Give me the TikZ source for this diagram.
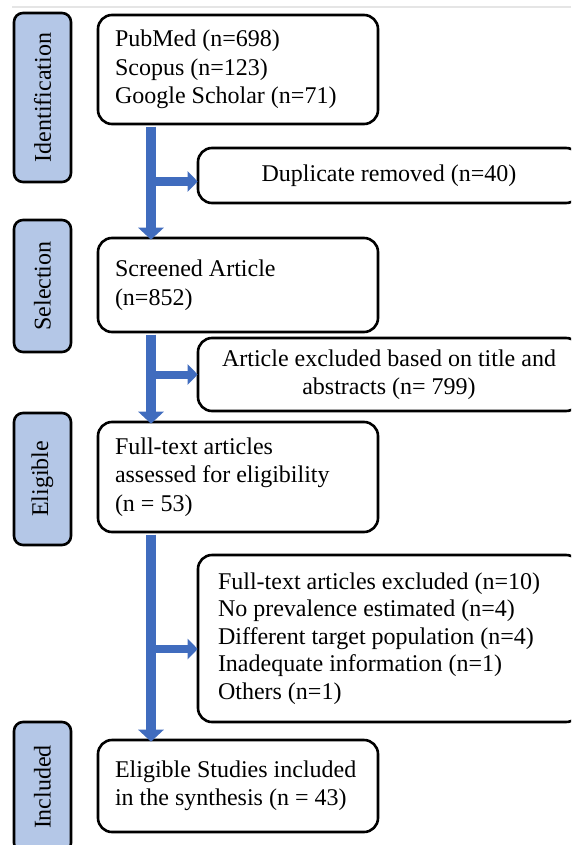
\documentclass[tikz,border=0pt]{standalone}
\usepackage{fontspec}
\setmainfont{Liberation Serif}
\usepackage{tikz}
\usetikzlibrary{arrows.meta}
\definecolor{sidefill}{RGB}{180,199,231}
\definecolor{arrblue}{RGB}{64,108,190}
\tikzset{
  blk/.style={draw, line width=2.6pt, rounded corners=14pt, fill=white, font=\fontsize{24}{28.5}\selectfont, inner ysep=4pt},
  lbox/.style={blk, align=flush left, text width=246pt, inner xsep=17pt},
  rbox/.style={blk, align=center, minimum width=382pt},
  side/.style={draw, line width=2.6pt, rounded corners=9pt, fill=sidefill, rotate=90, minimum height=57pt, inner sep=0pt, font=\fontsize{24}{28}\selectfont},
  trunk/.style={arrblue, line width=10pt, shorten <=1.3pt, shorten >=-3pt, -{Triangle[width=25pt,length=12pt]}},
  branch/.style={arrblue, line width=8pt, shorten >=-1pt, -{Triangle[width=20pt,length=10pt]}},
}
\begin{document}
\begin{tikzpicture}[x=1pt,y=-1pt]
\useasboundingbox (0,0) rectangle (571,845);
\clip (0,0) rectangle (571,845);
\draw[black!10, line width=1.5pt] (12,7) -- (571,7);
\node[side, minimum width=169pt] (sid) at (42.5,97.5) {Identification};
\node[side, minimum width=132pt] (ssel) at (42.5,286) {Selection};
\node[side, minimum width=132pt] (selig) at (42.5,479) {Eligible};
\node[side, minimum width=130pt] (sinc) at (42.5,787) {Included};
\node[lbox, minimum height=109pt] (src) at (238,69.5) {PubMed (n=698)\\Scopus (n=123)\\Google Scholar (n=71)};
\node[rbox, minimum height=55pt] (dup) at (389,175.5) {Duplicate removed (n=40)};
\node[lbox, minimum height=94pt] (scr) at (238,285) {Screened Article\\(n=852)};
\node[rbox, minimum height=73pt] (exa) at (389,374.5) {Article excluded based on title and\\abstracts (n= 799)};
\node[lbox, minimum height=110pt] (ft) at (238,477) {Full-text articles\\assessed for eligibility\\(n = 53)};
\node[blk, align=flush left, text width=342pt, inner xsep=20pt, minimum height=167pt, font=\fontsize{24}{27.5}\selectfont] (exb) at (389,638.5) {Full-text articles excluded (n=10)\\No prevalence estimated (n=4)\\Different target population (n=4)\\Inadequate information (n=1)\\Others (n=1)};
\node[lbox, minimum height=92pt] (inc) at (238,786) {Eligible Studies included\\in the synthesis (n = 43)};
\coordinate (tr) at (151,0);
\coordinate (j1) at ([yshift=-6pt]dup.west);
\coordinate (j3) at ([yshift=-10.5pt]exb.west);
\draw[branch] (j1 -| tr) -- (j1);
\draw[branch] (exa.west -| tr) -- (exa.west);
\draw[branch] (j3 -| tr) -- (j3);
\draw[trunk] (src.south -| tr) -- (scr.north -| tr);
\draw[trunk] (scr.south -| tr) -- (ft.north -| tr);
\draw[trunk] (ft.south -| tr) -- (inc.north -| tr);
\end{tikzpicture}
\end{document}
